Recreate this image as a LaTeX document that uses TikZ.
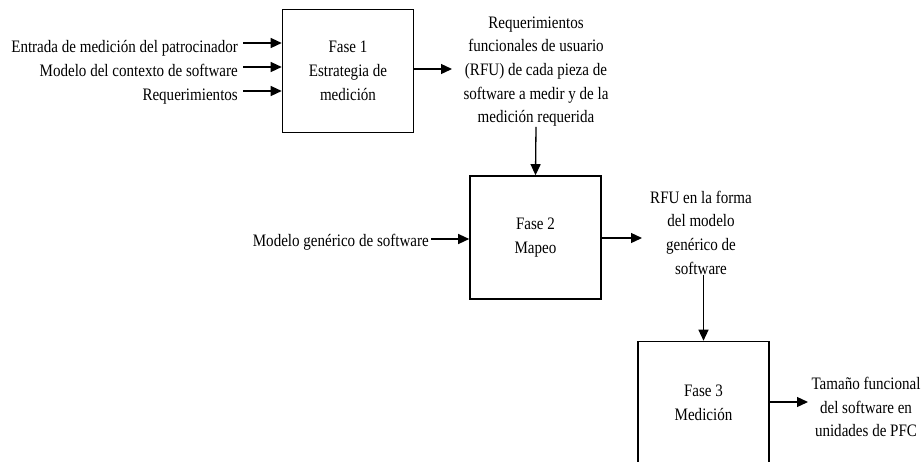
\documentclass[tikz,border=0pt]{standalone}
\usepackage{fontspec}
\setmainfont{Liberation Serif}[FakeStretch=0.86]
\usetikzlibrary{arrows.meta}
\begin{document}
\begin{tikzpicture}[x=1pt,y=-1pt,
  txt/.style={font=\fontsize{17.5}{23.7}\selectfont, inner sep=0pt, align=center},
  inlab/.style={font=\fontsize{17.5}{23.7}\selectfont, inner ysep=0pt, inner xsep=5pt, text depth=0pt, anchor=base east},
  phase/.style={draw, line width=1.6pt, minimum width=131pt, minimum height=123pt, inner sep=0pt, align=center, font=\fontsize{17.5}{23.7}\selectfont},
  arr/.style={line width=1.3pt, -{Triangle[length=11pt,width=10pt]}}]
\useasboundingbox (0,0) rectangle (924,461);
\clip (0,0) rectangle (924,461);
% phases
\node[phase] (f1) at (348,71) {Fase 1\\Estrategia de\\medición};
\node[phase] (f2) at (535.5,237.5) {Fase 2\\Mapeo};
\node[phase] (f3) at (703.5,403) {Fase 3\\Medición};
% inputs
\node[inlab, text height=18pt] (in1) at (243,52) {Entrada de medición del patrocinador};
\node[inlab, text height=18pt] (in2) at (243,76) {Modelo del contexto de software};
\node[inlab, text height=18pt] (in3) at (243,100) {Requerimientos};
\node[inlab, inner xsep=2pt, text height=14pt] (in4) at (431,246) {Modelo genérico de software};
% outputs
\node[txt] (t1) at (536,71.5) {Requerimientos\\funcionales de usuario\\(RFU) de cada pieza de\\software a medir y de la\\medición requerida};
\node[txt] (t2) at (701,232.5) {RFU en la forma\\del modelo\\genérico de\\software};
\node[txt] (t3) at (866,407) {Tamaño funcional\\del software en\\unidades de PFC};
\coordinate (o1) at (452,69);
\coordinate (o2) at (642,238);
\coordinate (o3) at (808,402);
% connectors
\draw[arr] (in1.east) -- (in1.east -| f1.west);
\draw[arr] (in2.east) -- (in2.east -| f1.west);
\draw[arr] (in3.east) -- (in3.east -| f1.west);
\draw[arr] (in4.east) -- (in4.east -| f2.west);
\draw[arr] (f1.east |- o1) -- (o1);
\draw[arr] (t1.south) -- (f2.north);
\draw[arr] (f2.east |- o2) -- (o2);
\draw[arr] (t2.south -| f3.north) -- (f3.north);
\draw[arr] (f3.east |- o3) -- (o3);
\end{tikzpicture}
\end{document}
